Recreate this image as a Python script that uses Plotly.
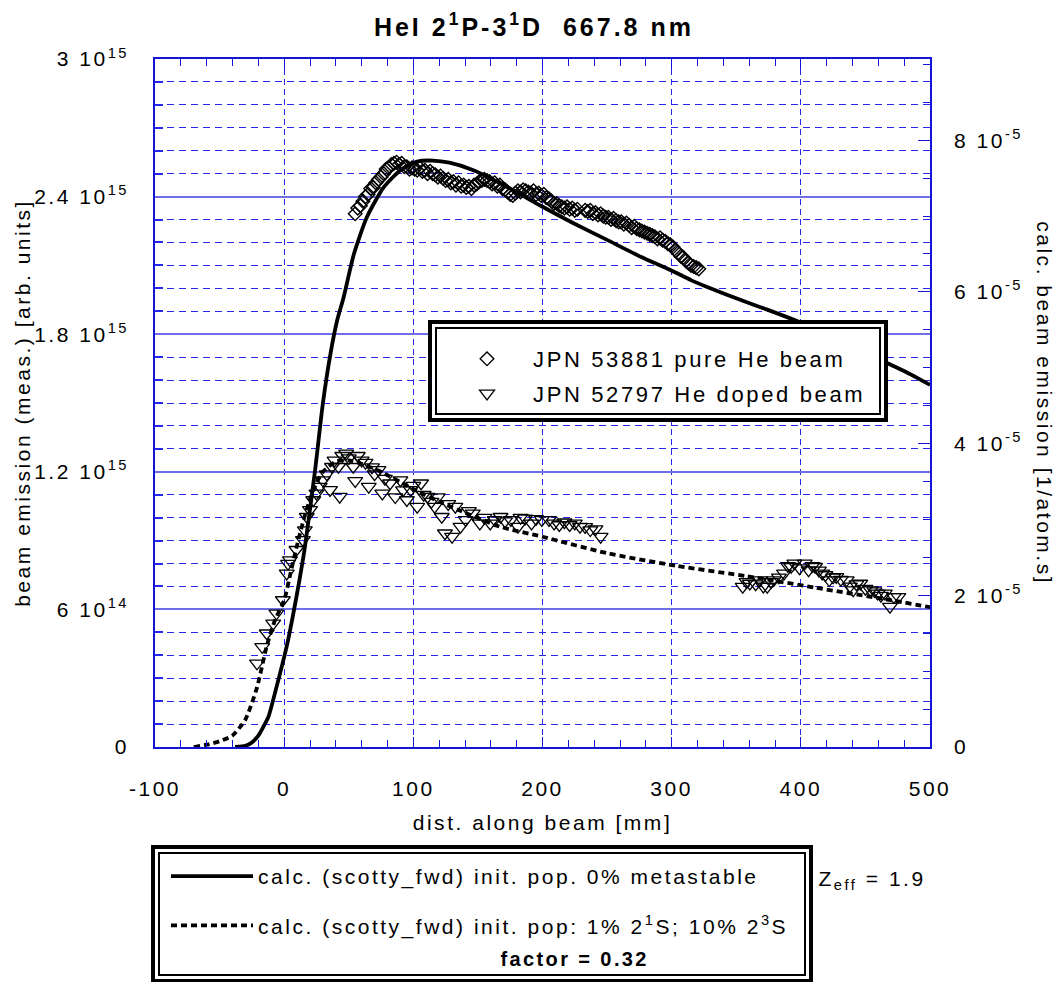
import plotly.graph_objects as go

# ---------------- data ----------------
# measured, pure He beam (JPN 53881) -- left axis, units of 1e15
x_pure = [55, 57, 59, 61, 63, 65, 67, 69, 71, 73, 75, 77, 79, 81, 83, 85, 87, 89, 91, 93,
          95, 97, 99, 101, 103, 105, 107, 109, 111, 113, 115, 117, 119, 121, 123, 125, 127, 129, 131, 133,
          135, 137, 139, 141, 143, 145, 147, 149, 151, 153, 155, 157, 159, 161, 163, 165, 167, 169, 171, 173,
          175, 177, 179, 181, 183, 185, 187, 189, 191, 193, 195, 197, 199, 201, 203, 205, 207, 209, 211, 213,
          215, 217, 219, 221, 223, 225, 227, 233, 235, 237, 239, 241, 243, 245, 247, 249, 251, 253, 255, 257,
          259, 261, 263, 265, 267, 269, 271, 273, 275, 277, 279, 281, 283, 285, 287, 289, 291, 293, 295, 297,
          299, 301, 303, 305, 307, 309, 311, 313, 315, 317, 319, 321]
y_pure = [2.325, 2.35, 2.36, 2.38, 2.40, 2.41, 2.435, 2.44, 2.46, 2.475, 2.485, 2.50, 2.52, 2.525, 2.54, 2.545, 2.55, 2.54, 2.545, 2.53,
          2.53, 2.52, 2.525, 2.52, 2.515, 2.525, 2.51, 2.515, 2.50, 2.51, 2.50, 2.495, 2.485, 2.49, 2.48, 2.47, 2.475, 2.46, 2.465, 2.45,
          2.46, 2.445, 2.45, 2.44, 2.445, 2.435, 2.45, 2.455, 2.465, 2.47, 2.475, 2.47, 2.465, 2.455, 2.46, 2.445, 2.45, 2.435, 2.43, 2.42,
          2.41, 2.405, 2.415, 2.425, 2.42, 2.43, 2.425, 2.42, 2.415, 2.425, 2.41, 2.415, 2.405, 2.41, 2.395, 2.39, 2.38, 2.37, 2.37, 2.36,
          2.355, 2.35, 2.355, 2.345, 2.35, 2.34, 2.345, 2.34, 2.335, 2.34, 2.325, 2.33, 2.32, 2.325, 2.315, 2.31, 2.31, 2.30, 2.305, 2.295,
          2.29, 2.29, 2.28, 2.285, 2.275, 2.265, 2.27, 2.26, 2.255, 2.25, 2.245, 2.24, 2.235, 2.23, 2.225, 2.215, 2.22, 2.21, 2.205, 2.195,
          2.19, 2.18, 2.165, 2.155, 2.14, 2.135, 2.12, 2.11, 2.10, 2.095, 2.09, 2.085]

# measured, He doped beam (JPN 52797) -- left axis, units of 1e15
x_doped = [-21, -17, -13.5, -8.5, -6, -1, 2, 3, 4.5, 9.5, 14.5, 16, 17.5, 20, 22.5, 25, 27.5, 30, 33, 35.5,
           37, 39, 42, 43, 45, 48, 50, 53.5, 55, 57, 60, 63, 65.5, 68, 70, 73, 76, 78, 82, 86,
           90, 92, 95, 98, 100, 103, 106, 108, 111, 114, 116.5, 119, 122, 124.5, 127, 130, 132.5, 136.5, 140.5, 143,
           146, 151.5, 155, 159.5, 163, 167.5, 171, 175.5, 181, 183, 186.5, 191.5, 195, 199.5, 205, 209, 213, 217, 221, 225,
           229, 233, 237, 241, 245,
           355, 358, 360.5, 365, 368.5, 371, 374, 377, 379, 383, 387, 390, 392.5, 395, 399, 403, 406, 409, 411, 414,
           416.5, 419, 422, 425, 427.5, 431, 435.5, 438, 440.5, 443, 446, 450, 454, 457, 459.5, 462, 465, 469, 472, 475.5]
y_doped = [0.365, 0.437, 0.496, 0.539, 0.583, 0.641, 0.757, 0.80, 0.815, 0.86, 0.903, 0.946, 1.004, 1.034, 1.077, 1.106, 1.135, 1.164, 1.19, 1.121,
           1.222, 1.25, 1.222, 1.092, 1.27, 1.28, 1.26, 1.222, 1.16, 1.27, 1.25, 1.24, 1.135, 1.22, 1.19, 1.208, 1.106, 1.17, 1.15, 1.09,
           1.164, 1.12, 1.077, 1.121, 1.14, 1.048, 1.15, 1.10, 1.092, 1.07, 1.048, 1.09, 1.004, 0.932, 1.06, 0.917, 1.048, 0.961, 0.99, 1.03,
           1.019, 0.975, 1.00, 0.975, 0.99, 1.004, 0.985, 0.99, 0.961, 1.00, 0.997, 0.975, 0.995, 0.99, 0.99, 0.975, 0.968, 0.98, 0.968, 0.975,
           0.961, 0.96, 0.946, 0.95, 0.917,
           0.699, 0.72, 0.713, 0.71, 0.728, 0.70, 0.699, 0.72, 0.728, 0.74, 0.757, 0.79, 0.786, 0.801, 0.78, 0.801, 0.771, 0.79, 0.786, 0.77,
           0.757, 0.75, 0.728, 0.74, 0.742, 0.73, 0.728, 0.70, 0.684, 0.71, 0.713, 0.69, 0.684, 0.68, 0.67, 0.66, 0.67, 0.612, 0.655, 0.655]

# calculated, 0% metastable -- right axis, units of 1e-5 /atom.s
x_calc0 = [-38, -30, -25, -20, -15, -12, -6, 2, 10, 16, 24, 30, 36, 41, 46, 54, 64, 77, 90, 103,
           115, 128, 146, 172, 199, 224, 250, 276, 299, 315, 327, 353, 375, 398, 420, 445, 470, 485, 500]
y_calc0 = [0.0, 0.015, 0.06, 0.151, 0.302, 0.408, 0.786, 1.330, 2.026, 2.630, 3.658, 4.535, 5.200, 5.623, 5.926, 6.500, 6.984, 7.377, 7.604, 7.718,
           7.731, 7.703, 7.607, 7.389, 7.132, 6.905, 6.685, 6.464, 6.288, 6.155, 6.068, 5.895, 5.759, 5.608, 5.442, 5.245, 5.037, 4.913, 4.774]

# calculated, 1% 2^1S; 10% 2^3S -- right axis, units of 1e-5 /atom.s
x_calcm = [-70, -60, -50, -40, -30, -21, -13.5, -7, 0, 5, 10, 15, 20, 25, 30, 40, 50, 60, 75, 90,
           105, 120, 135, 167, 200, 250, 304, 358, 411, 465, 500]
y_calcm = [0.0, 0.030, 0.076, 0.151, 0.363, 0.786, 1.330, 1.678, 1.935, 2.298, 2.661, 2.993, 3.265, 3.477, 3.628, 3.764, 3.779, 3.734, 3.628, 3.492,
           3.356, 3.235, 3.126, 2.905, 2.772, 2.555, 2.388, 2.252, 2.101, 1.950, 1.844]

left_tickvals = [0, 0.6e15, 1.2e15, 1.8e15, 2.4e15, 3.0e15]
left_ticktext = ["0", "6 10<sup>14</sup>", "1.2 10<sup>15</sup>", "1.8 10<sup>15</sup>",
                 "2.4 10<sup>15</sup>", "3 10<sup>15</sup>"]
right_tickvals = [0, 2e-5, 4e-5, 6e-5, 8e-5]
right_ticktext = ["0", "2 10<sup>-5</sup>", "4 10<sup>-5</sup>", "6 10<sup>-5</sup>", "8 10<sup>-5</sup>"]
x_tickvals = [-100, 0, 100, 200, 300, 400, 500]
x_ticktext = ["-100", "0", "100", "200", "300", "400", "500"]

LEFT_MAX = 3.0e15
RIGHT_MAX = 9.07e-5

# ---------------- figure ----------------
FONT = "Liberation Sans, Arial, Helvetica, sans-serif"
AXIS_BLUE = "rgb(20,20,215)"
GRID_DASH = "rgb(40,40,235)"
GRID_SOLID = "rgb(110,110,232)"

fig = go.Figure()

fig.add_trace(go.Scatter(
    x=x_calc0, y=[v * 1e-5 for v in y_calc0], yaxis="y2", mode="lines",
    line=dict(color="black", width=3.8, shape="spline", smoothing=0.6),
    name="calc. (scotty_fwd) init. pop. 0% metastable",
    legend="legend2", legendgroup="c0"))
fig.add_trace(go.Scatter(
    x=x_calcm, y=[v * 1e-5 for v in y_calcm], yaxis="y2", mode="lines",
    line=dict(color="black", width=3.8, dash="6px,4px", shape="spline", smoothing=0.6),
    name="calc. (scotty_fwd) init. pop: 1% 2<sup>1</sup>S; 10% 2<sup>3</sup>S",
    legend="legend2", legendgroup="c1"))
fig.add_trace(go.Scatter(
    x=x_pure, y=[v * 1e15 for v in y_pure], mode="markers",
    marker=dict(symbol="diamond-open", size=10.5, color="black", line=dict(width=1.4, color="black")),
    name="JPN 53881 pure He beam", legend="legend", legendgroup="m0"))
fig.add_trace(go.Scatter(
    x=x_doped, y=[v * 1e15 for v in y_doped], mode="markers",
    marker=dict(symbol="triangle-down-open", size=13, color="black", line=dict(width=1.3, color="black")),
    name="JPN 52797 He doped beam", legend="legend", legendgroup="m1"))

# plot-area pixel geometry
L, R, T, B = 155, 131, 59, 235
W, H = 1061, 982
pw, ph = W - L - R, H - T - B


def px(xp):
    return (xp - L) / pw


def py(yp):
    return (H - B - yp) / ph


shapes = []
# legend 1 (inside plot) double frame, white fill
shapes.append(dict(type="rect", xref="paper", yref="paper", x0=px(430), x1=px(886), y0=py(420), y1=py(322),
                   line=dict(color="black", width=4), fillcolor="white", layer="above"))
shapes.append(dict(type="rect", xref="paper", yref="paper", x0=px(436), x1=px(880), y0=py(414), y1=py(328),
                   line=dict(color="black", width=2), fillcolor="rgba(0,0,0,0)", layer="above"))
# legend 2 (below plot) double frame
shapes.append(dict(type="rect", xref="paper", yref="paper", x0=px(153), x1=px(811), y0=py(981), y1=py(847),
                   line=dict(color="black", width=4), fillcolor="white", layer="above"))
shapes.append(dict(type="rect", xref="paper", yref="paper", x0=px(159), x1=px(805), y0=py(975), y1=py(853),
                   line=dict(color="black", width=2), fillcolor="rgba(0,0,0,0)", layer="above"))

annotations = [
    dict(text="beam emission (meas.) [arb. units]", textangle=-90, xref="paper", yref="paper",
         x=px(22), y=0.5, xanchor="center", yanchor="middle", showarrow=False,
         font=dict(size=21, family=FONT, color="black")),
    dict(text="calc. beam emission [1/atom.s]", textangle=90, xref="paper", yref="paper",
         x=px(1045), y=0.5, xanchor="center", yanchor="middle", showarrow=False,
         font=dict(size=21, family=FONT, color="black")),
    dict(text="Z<sub>eff</sub> = 1.9", xref="paper", yref="paper", x=px(829), y=py(880),
         xanchor="left", yanchor="middle", showarrow=False, font=dict(size=21, family=FONT, color="black")),
    dict(text="<b>factor = 0.32</b>", xref="paper", yref="paper", x=px(574), y=py(959),
         xanchor="center", yanchor="middle", showarrow=False, font=dict(size=20, family=FONT, color="black")),
]

fig.update_layout(
    width=W, height=H,
    margin=dict(l=L, r=R, t=T, b=B),
    paper_bgcolor="white", plot_bgcolor="white",
    font=dict(family=FONT, size=21, color="black"),
    title=dict(text="<b>HeI 2<sup>1</sup>P-3<sup>1</sup>D \u00a0667.8 nm</b>", x=px(545), xanchor="center",
               y=1 - 27 / H, yanchor="middle", font=dict(size=25, family=FONT, color="black")),
    xaxis=dict(range=[-100, 500], tickvals=x_tickvals, ticktext=x_ticktext, showline=True,
               linecolor=AXIS_BLUE, linewidth=1.5,
               mirror="ticks", ticks="inside", ticklen=10, tickcolor=AXIS_BLUE, tickwidth=1,
               showgrid=True, gridcolor=GRID_DASH, griddash="6px,4px", gridwidth=1,
               minor=dict(dtick=20, tick0=0, ticks="inside", ticklen=7, tickcolor=AXIS_BLUE, showgrid=False),
               zeroline=False, ticklabelstandoff=22,
               title=dict(text="dist. along beam [mm]", standoff=16, font=dict(size=21)),
               tickfont=dict(size=21)),
    yaxis=dict(range=[0, LEFT_MAX], tickvals=left_tickvals, ticktext=left_ticktext,
               showline=True, linecolor=AXIS_BLUE, linewidth=1.5, ticks="inside", ticklen=14,
               tickcolor=GRID_SOLID, tickwidth=2,
               showgrid=True, gridcolor=GRID_SOLID, gridwidth=1.5,
               minor=dict(dtick=1e14, tick0=0, ticks="inside", ticklen=8, tickcolor=GRID_DASH,
                          showgrid=True, gridcolor=GRID_DASH, griddash="7px,5px", gridwidth=1),
               zeroline=False, ticklabelstandoff=20, tickfont=dict(size=21)),
    yaxis2=dict(range=[0, RIGHT_MAX], overlaying="y", side="right", tickvals=right_tickvals,
                ticktext=right_ticktext, showline=True, linecolor=AXIS_BLUE, linewidth=1.5,
                ticks="inside", ticklen=12, tickcolor=AXIS_BLUE, showgrid=False, zeroline=False,
                minor=dict(dtick=5e-6, tick0=0, ticks="inside", ticklen=7, tickcolor=AXIS_BLUE),
                ticklabelstandoff=18, tickfont=dict(size=21)),
    legend=dict(x=px(441), y=py(338), xanchor="left", yanchor="top", bgcolor="rgba(0,0,0,0)",
                borderwidth=0, font=dict(size=22, family=FONT), tracegroupgap=3, itemwidth=82,
                traceorder="grouped"),
    legend2=dict(x=px(166), y=py(856), xanchor="left", yanchor="top", bgcolor="rgba(0,0,0,0)",
                 borderwidth=0, font=dict(size=21, family=FONT), tracegroupgap=19, itemwidth=82,
                 traceorder="grouped"),
    shapes=shapes,
    annotations=annotations,
    showlegend=True,
)

# the reference renders all lettering with a noticeably wide tracking;
# legend clip boxes are released so the wider text is not cut off
post = ("var gd=document.getElementById('{plot_id}');"
        "gd.querySelectorAll('text').forEach(function(t){t.style.letterSpacing='0.12em';});"
        "gd.querySelectorAll('[clip-path]').forEach(function(e){"
        "var c=e.getAttribute('clip-path')||'';"
        "if(c.indexOf('legend')>=0){e.removeAttribute('clip-path');}});")

fig.write_html("out.html", post_script=post)
